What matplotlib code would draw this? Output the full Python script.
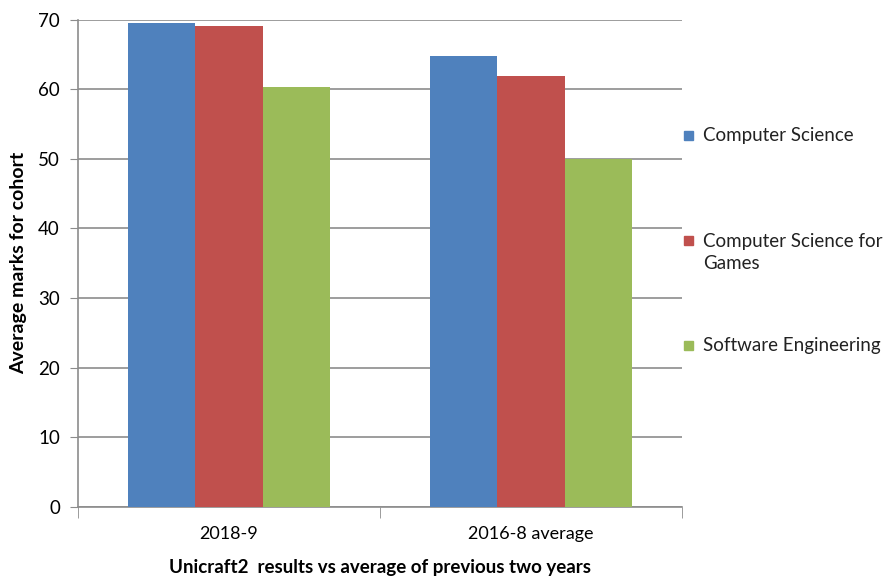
import numpy as np
import matplotlib
matplotlib.use("Agg")
import matplotlib.pyplot as plt
from matplotlib.patches import Rectangle

# data
categories = ["2018-9", "2016-8 average"]
series_names = ["Computer Science", "Computer Science for\nGames", "Software Engineering"]
computer_science = [69.5, 64.8]
cs_games = [69.1, 61.9]
software_eng = [60.3, 50.0]
colors = ["#4F81BD", "#C0504D", "#9BBB59"]

plt.rcParams["font.family"] = ["Lato", "DejaVu Sans"]

W, H = 890, 581
fig = plt.figure(figsize=(W / 100, H / 100), dpi=100)
ax = fig.add_axes([78 / W, 1 - 507 / H, (682 - 78) / W, (507 - 19.5) / H])

x = np.arange(len(categories))
width = 0.222
for i, vals in enumerate([computer_science, cs_games, software_eng]):
    ax.bar(x + (i - 1) * width, vals, width, color=colors[i], zorder=3)

ax.set_xlim(-0.5, len(categories) - 0.5)
ax.set_ylim(0, 70)
ax.set_yticks(range(0, 71, 10))
ax.yaxis.grid(True, color="#8c8c8c", linewidth=1.2, zorder=0)
ax.tick_params(axis="y", length=6, color="#8c8c8c", labelsize=13.5, pad=7)

ax.set_xticks(x)
ax.set_xticklabels(categories, fontsize=13)
ax.set_xticks([-0.5, 0.5, 1.5], minor=True)
ax.tick_params(axis="x", which="major", length=0, pad=14)
ax.tick_params(axis="x", which="minor", length=8, color="#8c8c8c")

for s in ["top", "right"]:
    ax.spines[s].set_visible(False)
for s in ["left", "bottom"]:
    ax.spines[s].set_color("#8c8c8c")
    ax.spines[s].set_linewidth(1.2)

ax.set_xlabel("Unicraft2  results vs average of previous two years", fontsize=13.5,
              fontweight="bold", labelpad=12)
ax.set_ylabel("Average marks for cohort", fontsize=14, fontweight="bold", labelpad=8)

# legend entries placed by hand (uneven spacing in the original)
text_y = [135, 252.5, 345]
box_y = [135, 240, 345]
for name, c, ty, by in zip(series_names, colors, text_y, box_y):
    fig.patches.append(Rectangle((684 / W, 1 - (by + 4.5) / H), 9 / W, 9 / H,
                                 transform=fig.transFigure, color=c))
    fig.text(703 / W, 1 - ty / H, name, fontsize=13.5, va="center", ha="left",
             color="#222222", linespacing=1.3)

fig.savefig("out.png", dpi=100)
